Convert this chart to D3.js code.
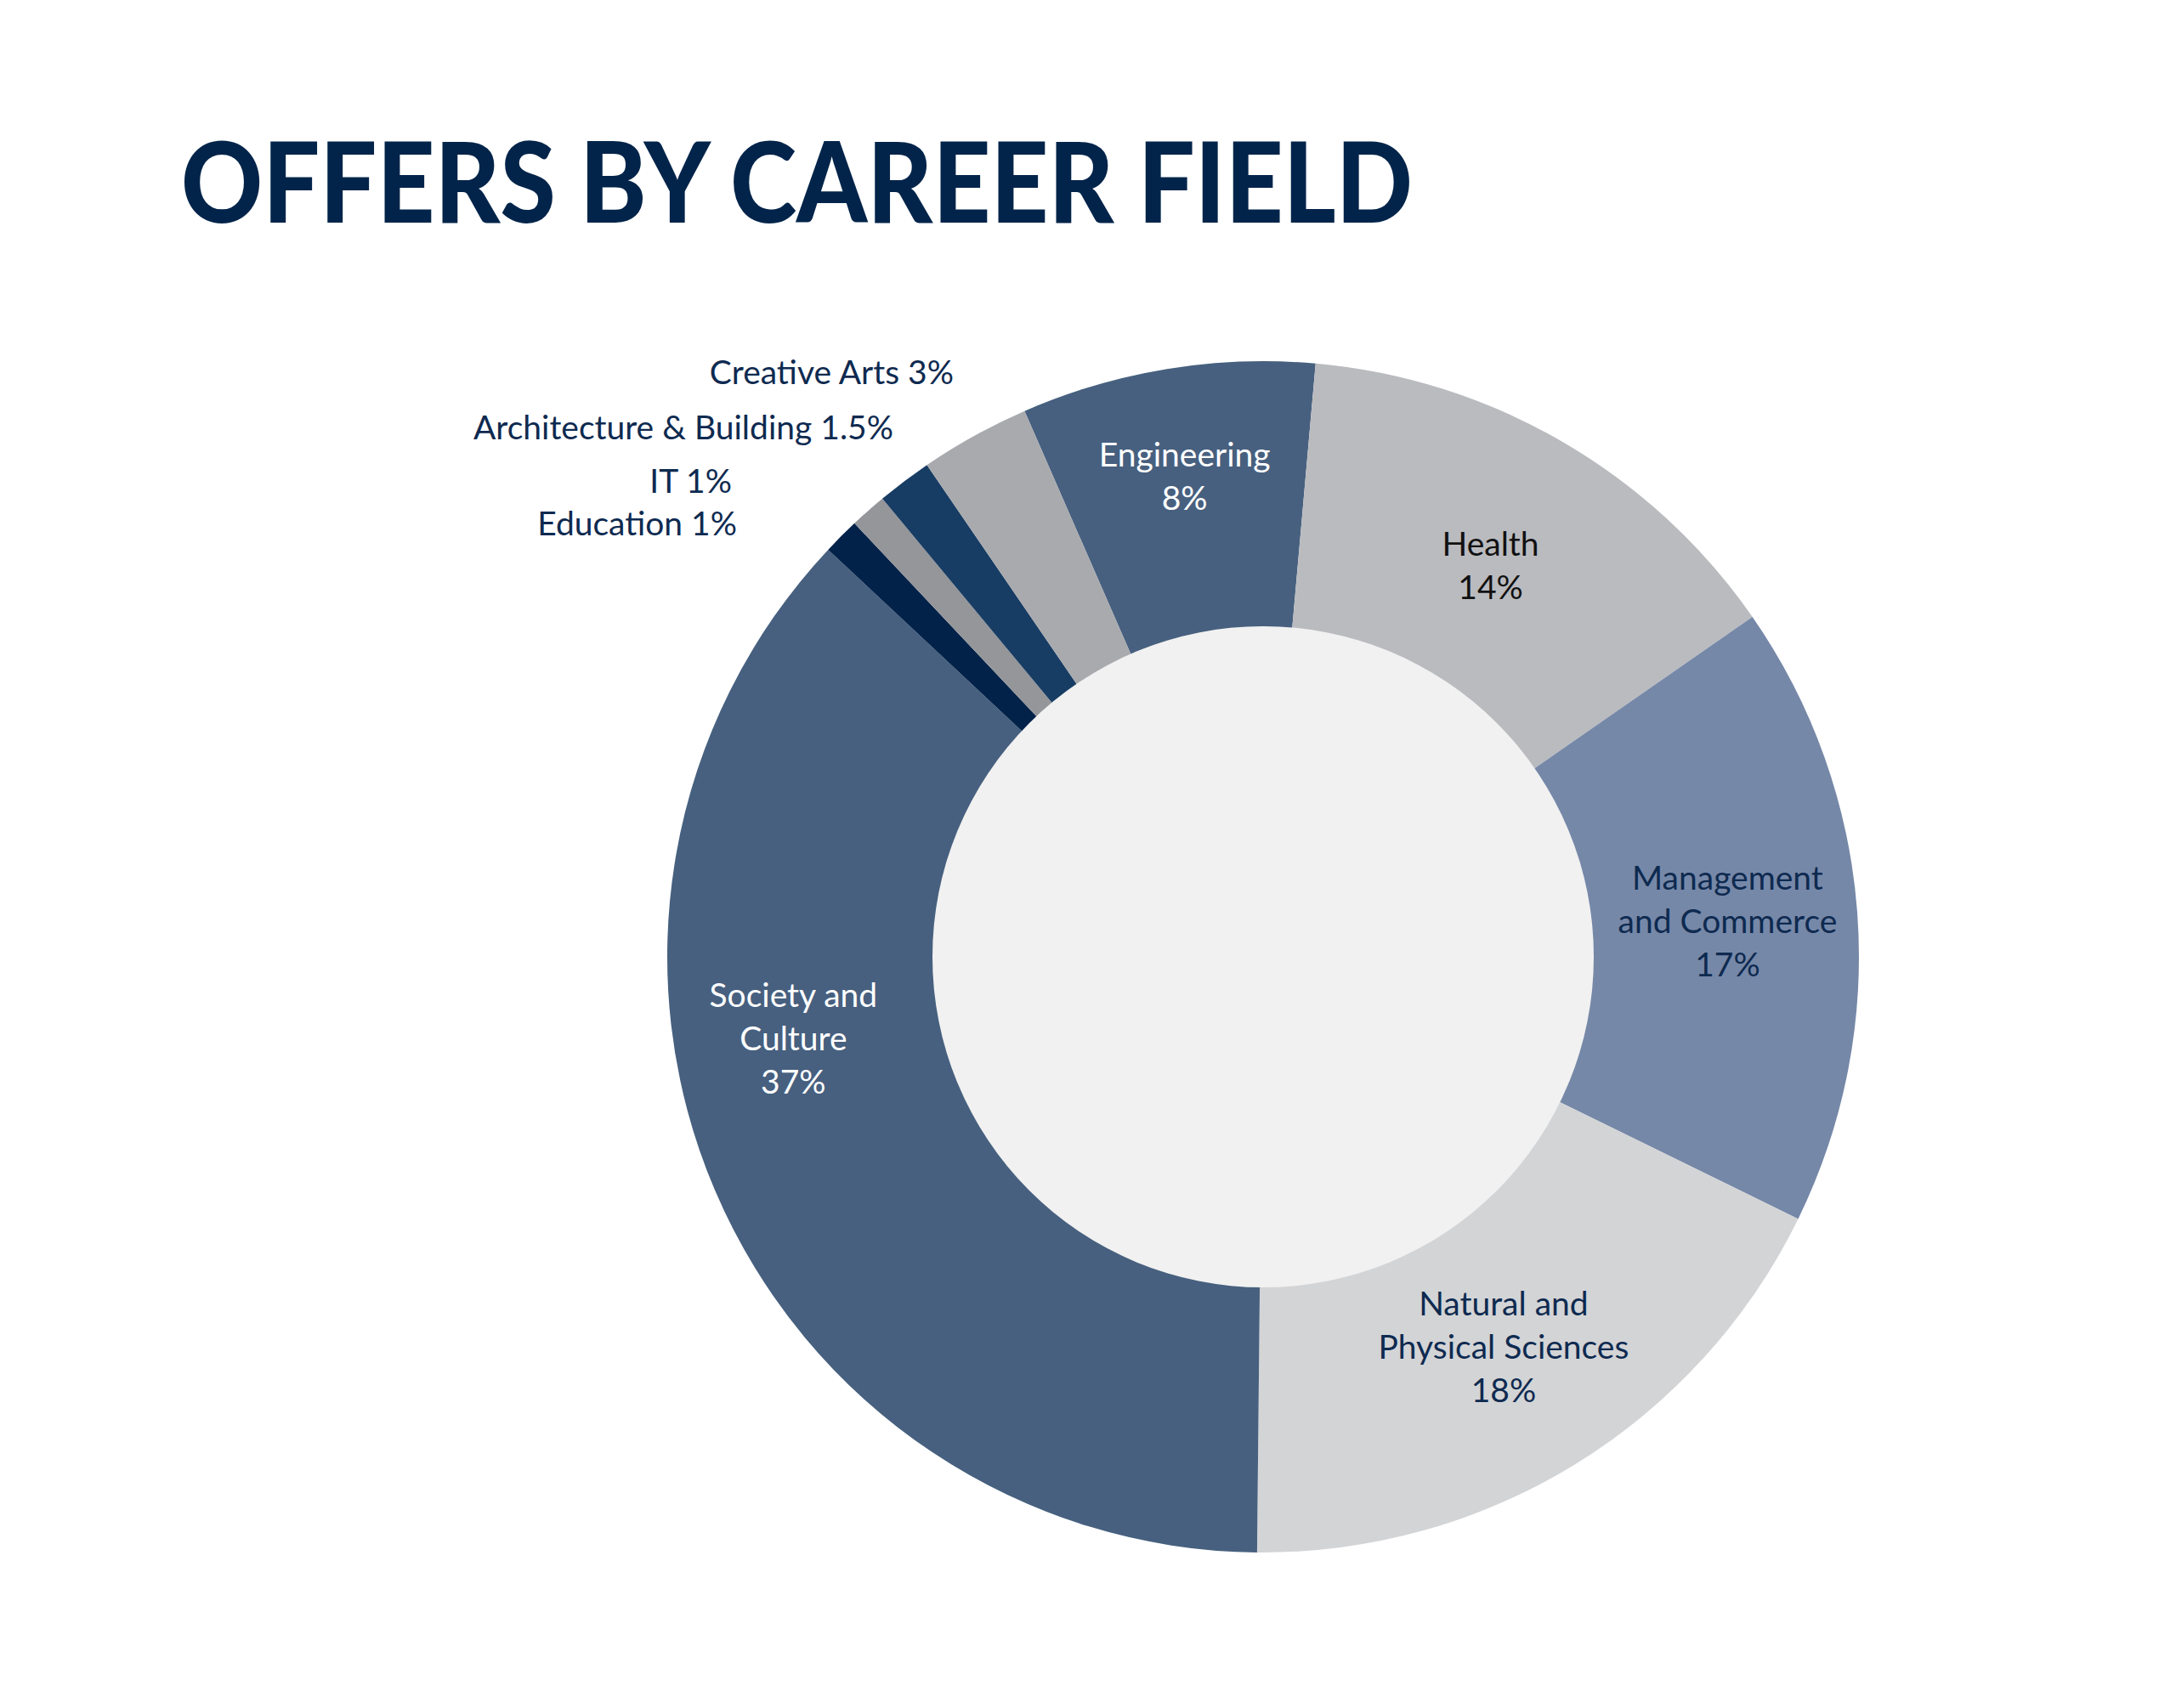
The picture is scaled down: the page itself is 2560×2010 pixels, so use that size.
<!DOCTYPE html>
<html>
	<head>
		<meta charset="utf-8">
		<style type="text/css">
			body { margin: 0; background: #fff; }
			svg { display: block; }
			.title { font-family: "Lato", sans-serif; font-weight: 900; fill: #02244a; }
			.lbl { font-family: "Lato", sans-serif; font-weight: 400; }
		</style>
		<title>Offers by career field</title>
	</head>
	<body>
		<script src="https://cdn.jsdelivr.net/npm/d3@7"></script>
		<script>

// Data
var fields  = ["Engineering", "Health", "Management and Commerce", "Natural and Physical Sciences",
               "Society and Culture", "Education", "IT", "Architecture & Building", "Creative Arts"];
var shares  = [8, 14, 17, 18, 37, 1, 1, 1.5, 3];
var shareLabels = ["8%", "14%", "17%", "18%", "37%", "1%", "1%", "1.5%", "3%"];
var labelLines = [["Engineering"], ["Health"], ["Management", "and Commerce"], ["Natural and", "Physical Sciences"],
                  ["Society and", "Culture"], ["Education"], ["IT"], ["Architecture & Building"], ["Creative Arts"]];
var colours = ["#47607f", "#babbbf", "#7688a8", "#d3d4d6", "#47607f", "#022249", "#95969a", "#183d64", "#a9aaae"];
var textColours = ["#ffffff", "#111111", "#0e2a50", "#0e2a50", "#ffffff", "#0e2a50", "#0e2a50", "#0e2a50", "#0e2a50"];

// Layout
var W = 2560, H = 2010;
var cx = 1486, cy = 1126, rOuter = 701, rInner = 389;
var fontSize = 39, lineH = 51, capH = 28;
var startDeg = -23.6;

// small slices get their label outside, right-aligned, stacked up the left
var outside = {
	"Creative Arts":           {dx: -364, dy: -674},
	"Architecture & Building": {dx: -435, dy: -609},
	"IT":                      {dx: -625, dy: -546},
	"Education":               {dx: -619, dy: -496}
};
// inside labels sit on the slice centroid; a few were nudged in the original
var labelRadius = {"Engineering": 573, "Health": 533, "Management and Commerce": 548,
                   "Natural and Physical Sciences": 539, "Society and Culture": 561};
var labelAngle  = {"Society and Culture": 260.1};

var svg = d3.select("body").append("svg")
	.attr("width", W)
	.attr("height", H);

svg.append("text")
	.attr("class", "title")
	.attr("x", 213)
	.attr("y", 262)
	.attr("font-size", 132)
	.attr("textLength", 1449)
	.attr("lengthAdjust", "spacingAndGlyphs")
	.text("OFFERS BY CAREER FIELD");

var data = fields.map((f, i) => ({name: f, value: shares[i], pct: shareLabels[i],
	lines: labelLines[i], colour: colours[i], tc: textColours[i]}));

var pie = d3.pie()
	.sort(null)
	.value(d => d.value)
	.startAngle(startDeg * Math.PI / 180)
	.endAngle((startDeg + 360) * Math.PI / 180);

var arc = d3.arc()
	.innerRadius(rInner - 2)
	.outerRadius(rOuter);

var g = svg.append("g")
	.attr("transform", `translate(${cx},${cy})`);

var arcs = pie(data);

g.selectAll("path.slice")
	.data(arcs)
  .enter().append("path")
	.attr("class", "slice")
	.attr("d", arc)
	.attr("fill", d => d.data.colour);

// the light disc in the middle
g.append("circle")
	.attr("r", rInner)
	.attr("fill", "#f1f1f1");

// labels inside the ring
arcs.filter(d => !outside[d.data.name]).forEach(function(d) {
	var name = d.data.name;
	var a = labelAngle[name] !== undefined ? labelAngle[name] * Math.PI / 180 : (d.startAngle + d.endAngle) / 2;
	var r = labelRadius[name] || (rInner + rOuter) / 2;
	var x = r * Math.sin(a), y = -r * Math.cos(a);
	var lines = d.data.lines.concat([d.data.pct]);
	var n = lines.length;
	var t = g.append("text")
		.attr("class", "lbl")
		.attr("text-anchor", "middle")
		.attr("font-size", fontSize)
		.attr("fill", d.data.tc);
	lines.forEach(function(s, i) {
		t.append("tspan")
			.attr("x", x)
			.attr("y", y + (i - (n - 1) / 2) * lineH + capH / 2)
			.text(s);
	});
});

// labels outside for the thin slices
arcs.filter(d => outside[d.data.name]).forEach(function(d) {
	var o = outside[d.data.name];
	g.append("text")
		.attr("class", "lbl")
		.attr("text-anchor", "end")
		.attr("font-size", fontSize)
		.attr("fill", d.data.tc)
		.attr("x", o.dx)
		.attr("y", o.dy)
		.text(d.data.lines[0] + " " + d.data.pct);
});

		</script>
	</body>
</html>
